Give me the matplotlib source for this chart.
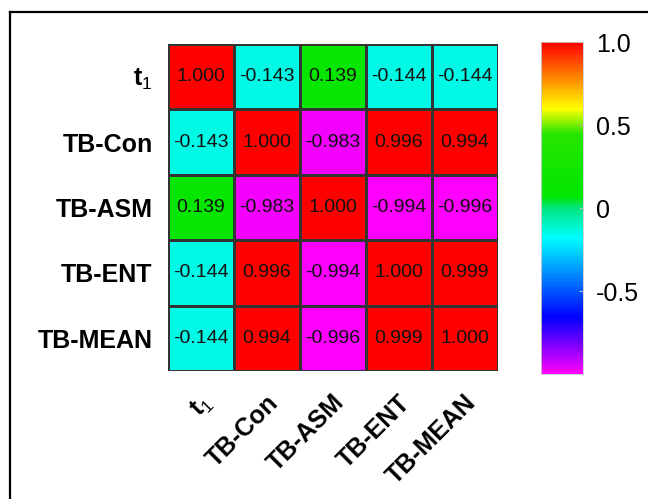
import matplotlib
matplotlib.use("Agg")
import matplotlib.pyplot as plt
import numpy as np
from matplotlib.colors import LinearSegmentedColormap
from matplotlib.lines import Line2D
import matplotlib.transforms as mtransforms

plt.rcParams['font.family'] = ['Liberation Sans', 'DejaVu Sans']
plt.rcParams['mathtext.fontset'] = 'custom'
plt.rcParams['mathtext.rm'] = 'Liberation Sans'
plt.rcParams['mathtext.bf'] = 'Liberation Sans:bold'

# datos
variables = [r'$\mathbf{t}_\mathrm{1}$', 'TB-Con', 'TB-ASM', 'TB-ENT', 'TB-MEAN']
fila_t1 = [1.000, -0.143, 0.139, -0.144, -0.144]
fila_con = [-0.143, 1.000, -0.983, 0.996, 0.994]
fila_asm = [0.139, -0.983, 1.000, -0.994, -0.996]
fila_ent = [-0.144, 0.996, -0.994, 1.000, 0.999]
fila_mean = [-0.144, 0.994, -0.996, 0.999, 1.000]
ticks_barra = [1.0, 0.5, 0, -0.5]
etiquetas_barra = ['1.0', '0.5', '0', '-0.5']

matriz = np.array([fila_t1, fila_con, fila_asm, fila_ent, fila_mean])

# mapa de color tipo arcoiris (magenta -> azul -> cian -> verde -> amarillo -> rojo)
nodos = [
    (0.000, (1.0, 0.0, 1.0)),
    (0.170, (0.0, 0.0, 1.0)),
    (0.410, (0.0, 1.0, 1.0)),
    (0.500, (0.0, 0.9, 0.5)),
    (0.535, (0.0, 0.9, 0.0)),
    (0.725, (0.15, 0.9, 0.0)),
    (0.800, (1.0, 1.0, 0.0)),
    (0.900, (1.0, 0.5, 0.0)),
    (1.000, (1.0, 0.0, 0.0)),
]
cmap = LinearSegmentedColormap.from_list('arcoiris', nodos)

fig = plt.figure(figsize=(6.48, 4.99), dpi=100)
ax = fig.add_axes([0.2593, 0.2565, 0.509, 0.6553])
cax = fig.add_axes([0.835, 0.2505, 0.065, 0.665])

n = len(variables)
malla = ax.pcolormesh(np.arange(n + 1), np.arange(n + 1), matriz, cmap=cmap,
                      vmin=-1, vmax=1, edgecolors='#333333', linewidth=0.8)
ax.set_xlim(0, n)
ax.set_ylim(n, 0)

for i in range(n):
    for j in range(n):
        ax.text(j + 0.5, i + 0.5, f"{matriz[i, j]:.3f}", ha='center', va='center',
                fontsize=14, color='#111111')

ax.set_yticks(np.arange(n) + 0.5)
ax.set_yticklabels(variables, fontsize=18, fontweight='bold')
ax.set_xticks(np.arange(n) + 0.5)
ax.set_xticklabels(variables, fontsize=18, fontweight='bold', rotation=45,
                   ha='right', va='top', rotation_mode='anchor')
ax.tick_params(axis='y', length=0, pad=11)
ax.tick_params(axis='x', length=0, pad=14)
desplazamiento = mtransforms.ScaledTranslation(-1 / 100, 0, fig.dpi_scale_trans)
for lbl in ax.get_xticklabels():
    lbl.set_transform(lbl.get_transform() + desplazamiento)
for lado in ax.spines.values():
    lado.set_visible(False)

barra = fig.colorbar(malla, cax=cax)
barra.set_ticks(ticks_barra)
barra.set_ticklabels(etiquetas_barra)
barra.ax.tick_params(labelsize=18, length=3, color='#bbbbbb', direction='in', pad=9)
barra.outline.set_edgecolor('#cccccc')
barra.outline.set_linewidth(0.6)

# marco de la figura
fig.add_artist(Line2D([10 / 648, 1.0], [1 - 12 / 499, 1 - 12 / 499],
                      transform=fig.transFigure, color='black', linewidth=1.6))
fig.add_artist(Line2D([10 / 648, 10 / 648], [0.0, 1 - 12 / 499],
                      transform=fig.transFigure, color='black', linewidth=1.6))

fig.savefig("out.png", dpi=100)
